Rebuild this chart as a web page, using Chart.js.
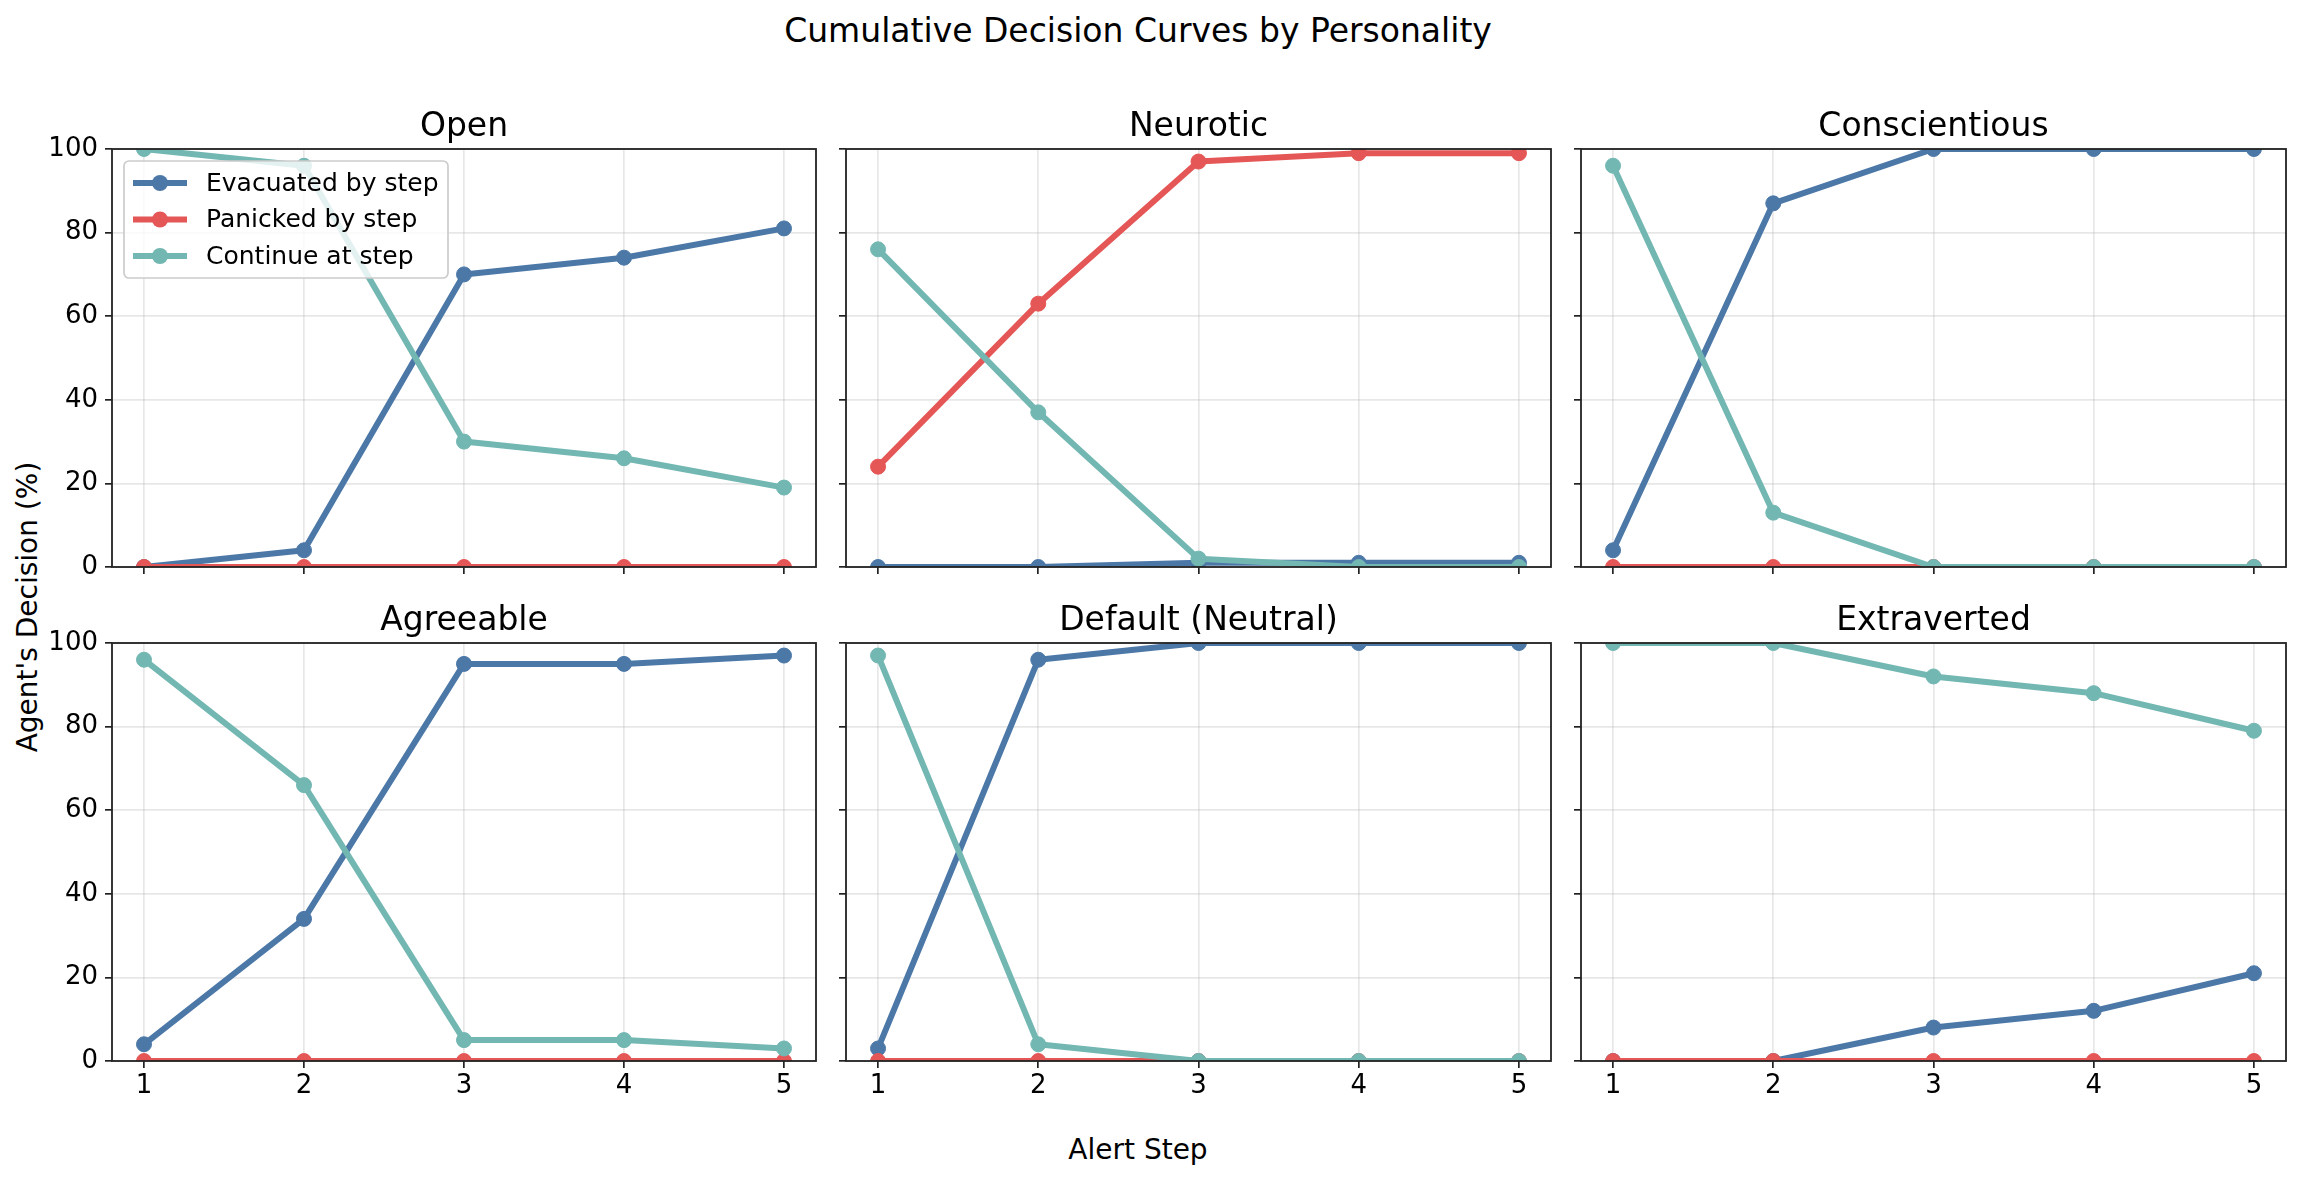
<!DOCTYPE html>
<html lang="en">
<head>
<meta charset="UTF-8" />
<title>Cumulative Decision Curves by Personality</title>
<script src="https://cdn.jsdelivr.net/npm/chart.js"></script>
<style>
body { margin: 0; background: #fff; }
#fig { position: relative; width: 2300px; height: 1181px; background: #fff; overflow: hidden;
  font-family: "DejaVu Sans", sans-serif; color: #000; }
#fig canvas { position: absolute; }
.txt { position: absolute; white-space: nowrap; line-height: 1; }
#suptitle { font-size: 33px; left: 1138px; top: 14px; transform: translateX(-50%); }
#xlabel { font-size: 28px; left: 1138px; top: 1136px; transform: translateX(-50%); }
#ylabel { font-size: 28px; left: 28px; top: 607px; transform: translate(-50%, -50%) rotate(-90deg); }
</style>
</head>
<body>
<div id="fig">
  <div class="txt" id="suptitle">Cumulative Decision Curves by Personality</div>
  <div class="txt" id="xlabel">Alert Step</div>
  <div class="txt" id="ylabel">Agent's Decision (%)</div>
</div>
<script>
const steps = [1, 2, 3, 4, 5];
const personalities = ["Open", "Neurotic", "Conscientious", "Agreeable", "Default (Neutral)", "Extraverted"];
const seriesNames = ["Evacuated by step", "Panicked by step", "Continue at step"];
const yTicks = [0, 20, 40, 60, 80, 100];

// one row per personality, same order as above
const evacuated = [
  [0, 4, 70, 74, 81],
  [0, 0, 1, 1, 1],
  [4, 87, 100, 100, 100],
  [4, 34, 95, 95, 97],
  [3, 96, 100, 100, 100],
  [0, 0, 8, 12, 21]
];
const panicked = [
  [0, 0, 0, 0, 0],
  [24, 63, 97, 99, 99],
  [0, 0, 0, 0, 0],
  [0, 0, 0, 0, 0],
  [0, 0, 0, 0, 0],
  [0, 0, 0, 0, 0]
];
const continuing = [
  [100, 96, 30, 26, 19],
  [76, 37, 2, 0, 0],
  [96, 13, 0, 0, 0],
  [96, 66, 5, 5, 3],
  [97, 4, 0, 0, 0],
  [100, 100, 92, 88, 79]
];

const colors = ["#4C78A8", "#E45756", "#72B7B2"];
const font = "DejaVu Sans";

// plot area geometry (pixels in the figure)
const colLeft = [112, 846, 1581];
const colWidth = [704, 705, 705];
const rowTop = [149, 643];
const plotH = 418;
const padL = 100, padT = 60, padB = 60, padR = 12;

const panelDecor = {
  id: "panelDecor",
  afterDatasetsDraw(chart, args, opts) {
    const a = chart.chartArea, ctx = chart.ctx;
    ctx.save();
    ctx.strokeStyle = "#222";
    ctx.lineWidth = 1.8;
    ctx.strokeRect(a.left, a.top, a.right - a.left, a.bottom - a.top);
    ctx.fillStyle = "#000";
    ctx.font = "33px '" + font + "'";
    ctx.textAlign = "center";
    ctx.textBaseline = "alphabetic";
    ctx.fillText(opts.title, (a.left + a.right) / 2, a.top - 13);
    ctx.restore();
  },
  afterDraw(chart, args, opts) {
    if (!opts.legend) return;
    const a = chart.chartArea, ctx = chart.ctx;
    ctx.save();
    ctx.beginPath();
    ctx.roundRect(a.left + 12, a.top + 12, 324, 117, 5);
    ctx.fillStyle = "rgba(255,255,255,0.8)";
    ctx.fill();
    ctx.strokeStyle = "#cccccc";
    ctx.lineWidth = 1.7;
    ctx.stroke();
    ctx.font = "25px '" + font + "'";
    ctx.textBaseline = "middle";
    ctx.textAlign = "left";
    seriesNames.forEach((name, i) => {
      const y = a.top + 34 + i * 36.5;
      ctx.strokeStyle = colors[i];
      ctx.lineWidth = 6;
      ctx.beginPath();
      ctx.moveTo(a.left + 21, y);
      ctx.lineTo(a.left + 75, y);
      ctx.stroke();
      ctx.fillStyle = colors[i];
      ctx.beginPath();
      ctx.arc(a.left + 48, y, 8, 0, Math.PI * 2);
      ctx.fill();
      ctx.fillStyle = "#000";
      ctx.fillText(name, a.left + 94, y + 1);
    });
    ctx.restore();
  }
};

function makeDataset(label, vals, color, order) {
  return {
    label,
    data: steps.map((s, i) => ({ x: s, y: vals[i] })),
    borderColor: color,
    backgroundColor: color,
    borderWidth: 6,
    borderJoinStyle: "round",
    pointRadius: 7.5,
    pointHoverRadius: 7.5,
    pointBorderWidth: 1,
    pointBackgroundColor: color,
    pointBorderColor: color,
    tension: 0,
    clip: 0,
    order
  };
}

const fig = document.getElementById("fig");
personalities.forEach((name, p) => {
  const row = Math.floor(p / 3), col = p % 3;
  const canvas = document.createElement("canvas");
  const w = padL + colWidth[col] + padR, h = padT + plotH + padB;
  canvas.width = w;
  canvas.height = h;
  canvas.style.left = (colLeft[col] - padL) + "px";
  canvas.style.top = (rowTop[row] - padT) + "px";
  canvas.style.width = w + "px";
  canvas.style.height = h + "px";
  fig.appendChild(canvas);

  const gridOpts = {
    color: "rgba(176,176,176,0.3)",
    lineWidth: 1.7,
    tickLength: 7,
    tickColor: "#222",
    tickWidth: 1.7
  };

  new Chart(canvas, {
    type: "line",
    data: {
      datasets: [
        makeDataset(seriesNames[0], evacuated[p], colors[0], 3),
        makeDataset(seriesNames[1], panicked[p], colors[1], 2),
        makeDataset(seriesNames[2], continuing[p], colors[2], 1)
      ]
    },
    options: {
      responsive: false,
      animation: false,
      devicePixelRatio: 1,
      layout: { padding: { left: 0, top: padT, right: padR, bottom: 0 } },
      plugins: {
        legend: { display: false },
        tooltip: { enabled: false },
        panelDecor: { title: name, legend: p === 0 }
      },
      scales: {
        x: {
          type: "linear",
          min: 0.8,
          max: 5.2,
          afterBuildTicks: (s) => { s.ticks = steps.map((v) => ({ value: v })); },
          afterFit: (s) => { s.height = padB; },
          grid: gridOpts,
          border: { display: false },
          ticks: {
            display: row === 1,
            color: "#000",
            font: { family: font, size: 26 },
            padding: 3,
            maxRotation: 0,
            autoSkip: false
          }
        },
        y: {
          type: "linear",
          min: 0,
          max: 100,
          afterBuildTicks: (s) => { s.ticks = yTicks.map((v) => ({ value: v })); },
          afterFit: (s) => { s.width = padL; },
          grid: gridOpts,
          border: { display: false },
          ticks: {
            display: col === 0,
            color: "#000",
            font: { family: font, size: 26 },
            padding: 7
          }
        }
      }
    },
    plugins: [panelDecor]
  });
});
</script>
</body>
</html>
